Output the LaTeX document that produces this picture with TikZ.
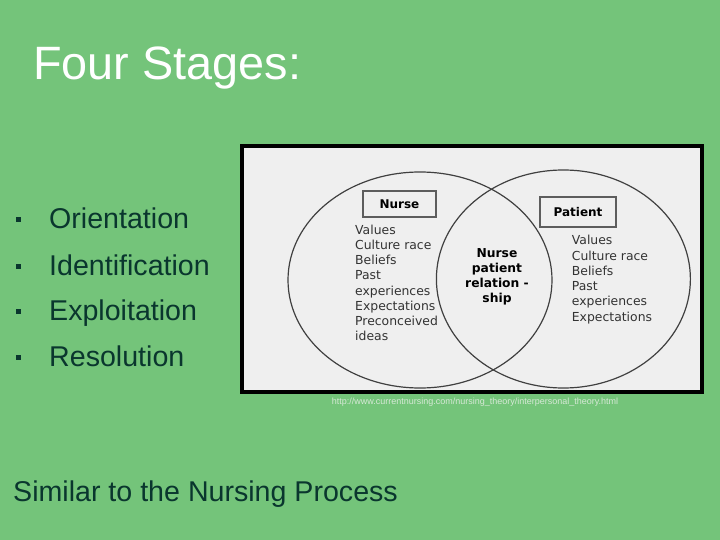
\documentclass[tikz,border=0pt]{standalone}
\usepackage{fontspec}
\setmainfont{Liberation Sans}
\newfontfamily\vennfont{DejaVu Sans}
\usetikzlibrary{shapes.geometric,positioning}
\definecolor{slidegreen}{RGB}{116,196,122}
\definecolor{slideink}{RGB}{10,54,46}
\definecolor{figgray}{RGB}{239,239,239}
\definecolor{ringgray}{RGB}{64,64,64}
\definecolor{urlgray}{RGB}{214,232,214}
\tikzset{
  slidetitle/.style={anchor=base west, inner sep=0pt, text=white,
                     font=\fontsize{46.8}{56}\selectfont},
  bulletsq/.style ={rectangle, fill=slideink, minimum size=5pt, inner sep=0pt},
  bullettext/.style={anchor=base west, inner sep=0pt, text=slideink,
                     font=\fontsize{28.6}{34}\selectfont},
  figframe/.style ={rectangle, draw=black, fill=figgray, line width=4pt,
                    inner sep=0pt},
  vennring/.style ={ellipse, draw=ringgray, line width=1.2pt, inner sep=0pt},
  vennbox/.style  ={rectangle, draw=ringgray!85, line width=1.6pt, fill=figgray,
                    inner sep=0pt, font=\vennfont\bfseries\fontsize{12}{14}\selectfont},
  vennlist/.style ={anchor=north west, inner sep=0pt, align=left, text=black!80,
                    font=\vennfont\fontsize{12.4}{15.25}\selectfont},
  venncore/.style ={anchor=north, inner sep=0pt, align=center, text=black,
                    font=\vennfont\bfseries\fontsize{12.3}{15.1}\selectfont},
  urltext/.style  ={inner sep=0pt, text=urlgray, font=\fontsize{9}{10}\selectfont},
}
\begin{document}
\begin{tikzpicture}[x=1pt, y=-1pt]
\fill[slidegreen] (0,0) rectangle (720,540);
\useasboundingbox (0,0) rectangle (720,540);
\node[slidetitle] (title) at (33,80) {Four Stages:};
\foreach \i/\yb/\txt in {1/229/Orientation, 2/275/Identification,
                         3/320.5/Exploitation, 4/366/Resolution} {
  \node[bulletsq] (b\i) at (18,\yb-9) {};
  \node[bullettext] (s\i) at (49,\yb) {\txt};
}
% picture of the two circles
\node[figframe, minimum width=460pt, minimum height=246pt] (fig) at (472,269) {};
\node[vennring, minimum width=264pt, minimum height=216pt] (nring) at (420,280) {};
\node[vennring, minimum width=254pt, minimum height=218pt] (pring) at (563.4,279) {};
\node[vennbox, minimum width=73pt, minimum height=26pt] (nbox) at (399.4,204) {Nurse};
\node[vennbox, minimum width=75.7pt, minimum height=30pt] (pbox) at (578,212.3) {Patient};
\node[vennlist] (nlist) at (355,224.5) {Values\\Culture race\\Beliefs\\Past\\experiences\\Expectations\\Preconceived\\ideas};
\node[vennlist] (plist) at (571.7,235.2) {Values\\Culture race\\Beliefs\\Past\\experiences\\Expectations};
\node[venncore] (core) at (497,248.5) {Nurse\\patient\\relation -\\ship};
\node[urltext] (url) at (475,402) {http://www.currentnursing.com/nursing\_theory/interpersonal\_theory.html};
\node[bullettext] (close) at (13,501) {Similar to the Nursing Process};
\end{tikzpicture}
\end{document}
